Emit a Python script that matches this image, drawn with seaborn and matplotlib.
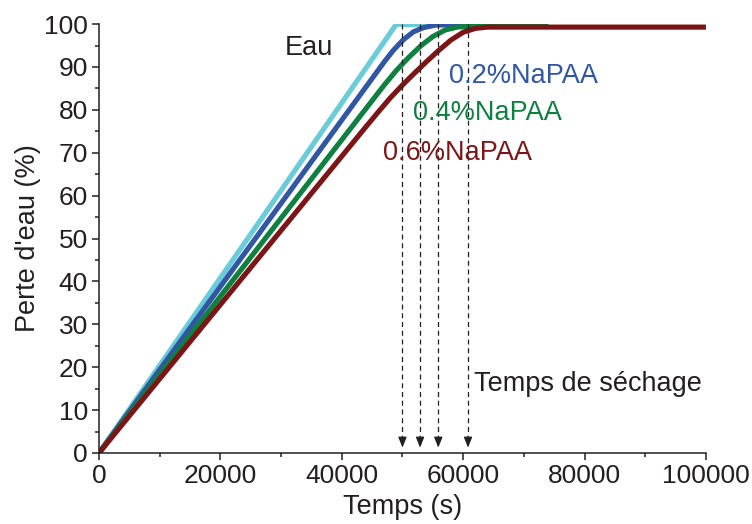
import matplotlib
matplotlib.use("Agg")
import matplotlib.pyplot as plt
import seaborn as sns
from matplotlib.ticker import MultipleLocator

## Data
eau_t = [0, 49000, 50500, 74000]
eau_p = [0, 100.0, 99.9, 99.9]

napaa02_t = [0, 47000, 48500, 50100, 51800, 53500, 55600, 74000]
napaa02_p = [0, 91.2, 93.9, 96.3, 98.2, 99.2, 99.8, 99.8]

napaa04_t = [0, 47000, 49000, 51000, 53000, 55000, 57000, 59000, 61000, 74000]
napaa04_p = [0, 85.8, 89.2, 92.2, 94.9, 97.1, 98.6, 99.3, 99.5, 99.5]

napaa06_t = [0, 44000, 46300, 48000, 50000, 52000, 54000, 56000, 58000, 60000, 62000, 64000, 100000]
napaa06_p = [0, 76.1, 80.0, 82.8, 85.8, 88.6, 91.3, 93.9, 96.3, 98.1, 99.0, 99.3, 99.3]

drying_times = [50000, 52900, 55900, 60800]
series_names = ["Eau", "0.2%NaPAA", "0.4%NaPAA", "0.6%NaPAA"]

## Style
sns.set_style("ticks")
plt.rcParams['font.family'] = ['Liberation Sans', 'DejaVu Sans']
ink = '#231F20'
colors = ['#6ACBD9', '#3156A5', '#0E8040', '#7D1517']

fig = plt.figure(figsize=(7.52, 5.24), dpi=100)
ax = fig.add_axes([0.1316, 0.1355, 0.8072, 0.8185])

## Curves
curves = [(eau_t, eau_p), (napaa02_t, napaa02_p), (napaa04_t, napaa04_p), (napaa06_t, napaa06_p)]
for (t, p), c in zip(curves, colors):
    sns.lineplot(x=t, y=p, ax=ax, color=c, lw=3.7, solid_capstyle='butt')

## Drying time arrows
for t in drying_times:
    ax.plot([t, t], [100, 4], ls=(0, (4, 3)), color=ink, lw=0.9)
    ax.annotate('', xy=(t, 0.6), xytext=(t, 4.5),
                arrowprops=dict(arrowstyle='-|>,head_length=0.45,head_width=0.18',
                                color=ink, lw=0.9, mutation_scale=14))

## Labels on the plot
fs = 19.5
ax.text(30640, 94.4, series_names[0], color=ink, fontsize=fs, va='center')
ax.text(57660, 87.9, series_names[1], color=colors[1], fontsize=fs, va='center')
ax.text(51730, 79.3, series_names[2], color=colors[2], fontsize=fs, va='center')
ax.text(46790, 69.9, series_names[3], color=colors[3], fontsize=fs, va='center')
ax.text(61780, 16.1, "Temps de séchage", color=ink, fontsize=fs, va='center')

## Axes
ax.set_xlim(0, 100000)
ax.set_ylim(0, 100)
ax.xaxis.set_major_locator(MultipleLocator(20000))
ax.xaxis.set_minor_locator(MultipleLocator(10000))
ax.yaxis.set_major_locator(MultipleLocator(10))
ax.yaxis.set_minor_locator(MultipleLocator(5))
ax.tick_params(which='major', direction='out', length=5, width=1.1, color=ink,
               labelsize=19, labelcolor=ink, pad=3)
ax.tick_params(which='minor', direction='out', length=3, width=1.1, color=ink)
ax.set_xlabel("Temps (s)", fontsize=fs, color=ink, labelpad=4)
ax.set_ylabel("Perte d'eau (%)", fontsize=fs, color=ink, labelpad=2)
for side in ['left', 'bottom']:
    ax.spines[side].set_linewidth(1.1)
    ax.spines[side].set_color(ink)
sns.despine(ax=ax)

fig.savefig("out.png", dpi=100)
